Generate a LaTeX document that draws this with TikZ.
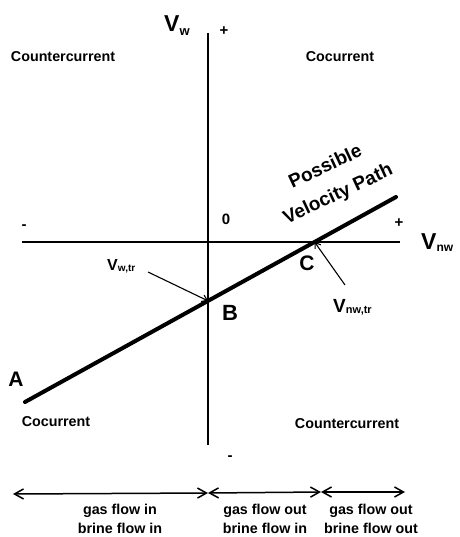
\documentclass[tikz,border=0pt]{standalone}
\usepackage{fontspec}
\setmainfont{Liberation Sans}
\usetikzlibrary{arrows.meta}
\newcommand{\velsub}[3]{\raisebox{-#2pt}{\fontsize{#1}{#1}\selectfont\bfseries #3}}
\tikzset{region/.style={font=\fontsize{14.3}{19}\selectfont\bfseries,inner sep=0pt},
         pointlbl/.style={font=\fontsize{21}{21}\selectfont\bfseries,inner sep=0pt,anchor=base},
         sign/.style={font=\fontsize{15}{15}\selectfont\bfseries,inner sep=0pt},
         vlabel/.style={anchor=base west,inner sep=0pt},
         flowarrow/.style={line width=1.5pt,{Straight Barb[length=9pt,width=10pt]}-{Straight Barb[length=9pt,width=10pt]}},
         trarrow/.style={line width=1.1pt,-{Straight Barb[length=5pt,width=7pt]}}}

\begin{document}
\begin{tikzpicture}[x=1pt,y=-1pt]
                    \useasboundingbox(0,0)rectangle(459,537);
                    \coordinate(N)at(208,33);
                    \coordinate(S)at(208,445);
                    \coordinate(W)at(22,242);
                    \coordinate(E)at(400,242);
                    \coordinate(A)at(25,402);
                    \coordinate(P)at(396,197);
                    \path(A)--(P)coordinate[pos=.4933](B);
                    \path(A)--(P)coordinate[pos=.7805](C);
                    \coordinate(Ta)at(148,272);
                    \coordinate(Tc)at(345,285);
                    \draw[line width=2.8pt](N)--(S);
                    \draw[line width=1.6pt](W)--(E);
                    \draw[line width=4pt,line cap=round](A)--(P);
                    \draw[trarrow](Ta)--(B);
                    \draw[trarrow](Tc)--(C);
                    % quadrants
                    \node[region](ccTL)at(63,57){Countercurrent};
                    \node[region](coTR)at(340,57){Cocurrent};
                    \node[region](coBL)at(56,422){Cocurrent};
                    \node[region](ccBR)at(347,424){Countercurrent};
                    % axes
                    \node[sign](plusN)at(224,31){+};
                    \node[sign](minusS)at(230,458){-};
                    \node[sign](minusW)at(24,227){-};
                    \node[sign](plusE)at(399,223){+};
                    \node[sign](zero)at(226,219){0};
                    \node[vlabel,font=\fontsize{23}{23}\selectfont\bfseries](Vw)at(164,32){V\velsub{13}{4}{w}};
                    \node[vlabel,font=\fontsize{23}{23}\selectfont\bfseries](Vnw)at(421,249){V\velsub{12}{2}{nw}};
                    \node[vlabel,font=\fontsize{16}{16}\selectfont\bfseries](Vwtr)at(107,270){V\velsub{10}{1}{w,tr}};
                    \node[vlabel,font=\fontsize{19}{19}\selectfont\bfseries](Vnwtr)at(333,312){V\velsub{11}{1}{nw,tr}};
                    \node[pointlbl](labA)at(16,386){A};
                    \node[pointlbl,font=\fontsize{22}{22}\selectfont\bfseries](labB)at(230,320){B};
                    \node[pointlbl](labC)at(307,270){C};
                    \node[font=\fontsize{19}{30}\selectfont\bfseries,rotate=25,align=center,inner sep=0pt](vpath)at(332,181){Possible\\Velocity Path};
                    % flow directions
                    \coordinate(F0)at(13,494);
                    \coordinate(F1)at(208,493);
                    \coordinate(F2)at(321,492);
                    \coordinate(F3)at(405,492);
                    \draw[flowarrow](F0)--(F1);
                    \draw[flowarrow](F1)--(F2);
                    \draw[flowarrow](F2)--(F3);
                    \node[region,align=center](flowL)at(120,518.5){gas flow in\\brine flow in};
                    \node[region,align=center](flowM)at(265,518.5){gas flow out\\brine flow in};
                    \node[region,align=center](flowR)at(371,518.5){gas flow out\\brine flow out};
                \end{tikzpicture}
\end{document}
